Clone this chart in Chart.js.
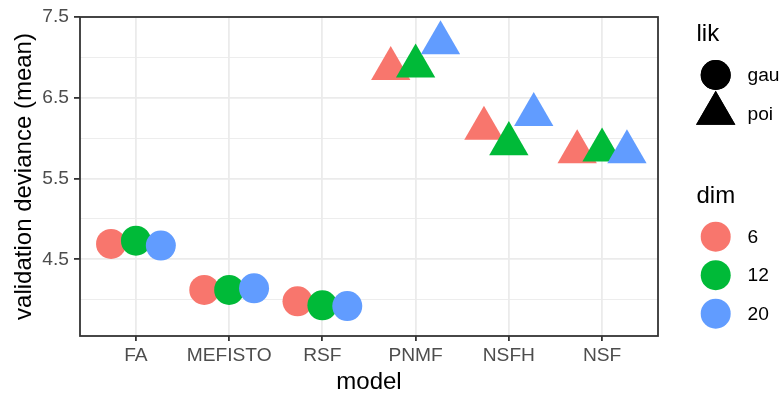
<!DOCTYPE html>
<html>
<head>
<meta charset="utf-8">
<script src="https://cdn.jsdelivr.net/npm/chart.js@4/dist/chart.umd.min.js"></script>
<style>
  body { margin: 0; background: #fff; }
  canvas { display: block; }
</style>
</head>
<body>
<canvas id="chart__dev" width="784" height="394"></canvas>
<script>
// data
const models = ['FA', 'MEFISTO', 'RSF', 'PNMF', 'NSFH', 'NSF'];
const modelLik = ['gau', 'gau', 'gau', 'poi', 'poi', 'poi'];
const dims = ['6', '12', '20'];
const dev6 = [4.69, 4.12, 3.98, 6.86, 6.12, 5.83];
const dev12 = [4.73, 4.12, 3.93, 6.89, 5.93, 5.85];
const dev20 = [4.67, 4.14, 3.92, 7.18, 6.29, 5.83];
const yMajor = [4.5, 5.5, 6.5, 7.5];
const yMinor = [4.0, 5.0, 6.0, 7.0];
const likLabels = ['gau', 'poi'];

const dimColors = ['#F8766D', '#00BA38', '#619CFF'];
const FONT = '"Liberation Sans", Arial, Helvetica, sans-serif';
const TICK_SIZE = 19.2;
const TITLE_SIZE = 24;
const dodge = [-0.267, 0, 0.267];
const CIRCLE_R = 15;
const TRI_R = 22.7;

const series = [dev6, dev12, dev20];
const datasets = series.map((vals, d) => ({
  label: dims[d],
  data: vals.map((v, i) => ({ x: i + dodge[d], y: v })),
  backgroundColor: dimColors[d],
  borderWidth: 0,
  pointStyle: ctx => modelLik[ctx.dataIndex] === 'gau' ? 'circle' : 'triangle',
  pointRadius: ctx => modelLik[ctx.dataIndex] === 'gau' ? CIRCLE_R : TRI_R,
  order: 2 - d,
}));

// panel border + the two legends (lik shape, dim colour)
const ggExtras = {
  id: 'ggExtras',
  afterDatasetsDraw(chart) {
    const { ctx, chartArea: a } = chart;
    ctx.save();
    ctx.strokeStyle = '#333333';
    ctx.lineWidth = 1.8;
    ctx.strokeRect(a.left, a.top, a.right - a.left, a.bottom - a.top);
    ctx.restore();
  },
  afterDraw(chart) {
    const ctx = chart.ctx;
    const kx = 715.7, tx = 747.5, titleX = 696.5;
    ctx.save();
    ctx.fillStyle = '#000';
    ctx.textAlign = 'left';
    ctx.textBaseline = 'alphabetic';
    ctx.font = TITLE_SIZE + 'px ' + FONT;
    ctx.fillText('lik', titleX, 41);
    ctx.fillText('dim', titleX, 203);

    ctx.font = TICK_SIZE + 'px ' + FONT;
    ctx.textBaseline = 'middle';
    const likY = [75, 113.5];
    likLabels.forEach((lab, i) => {
      const style = lab === 'gau' ? 'circle' : 'triangle';
      const r = lab === 'gau' ? CIRCLE_R : TRI_R;
      ctx.fillStyle = '#000';
      ctx.beginPath();
      Chart.helpers.drawPoint(ctx, { pointStyle: style, radius: r, borderWidth: 0 }, kx, likY[i]);
      ctx.fill();
      ctx.fillText(lab, tx, likY[i] + 1);
    });

    const dimY = [236.7, 275.2, 313.7];
    dims.forEach((lab, i) => {
      ctx.fillStyle = dimColors[i];
      ctx.beginPath();
      ctx.arc(kx, dimY[i], CIRCLE_R, 0, Math.PI * 2);
      ctx.fill();
      ctx.fillStyle = '#000';
      ctx.fillText(lab, tx, dimY[i] + 1);
    });
    ctx.restore();
  }
};

const config = {
  type: 'scatter',
  data: { datasets },
  options: {
    responsive: false,
    animation: false,
    events: [],
    layout: { autoPadding: false, padding: { left: 0, right: 126, top: 17, bottom: 0 } },
    plugins: { legend: { display: false }, tooltip: { enabled: false } },
    scales: {
      x: {
        type: 'linear',
        min: -0.6,
        max: 5.6,
        afterBuildTicks: s => { s.ticks = models.map((m, i) => ({ value: i })); },
        afterFit: s => { s.height = 58; },
        border: { display: false },
        grid: {
          color: '#EBEBEB',
          lineWidth: 1.8,
          tickColor: '#333333',
          tickWidth: 1.8,
          tickLength: 5,
        },
        ticks: {
          color: '#4D4D4D',
          font: { family: FONT, size: TICK_SIZE, lineHeight: 1 },
          padding: 5,
          maxRotation: 0,
          autoSkip: false,
          callback: v => models[v],
        },
        title: {
          display: true,
          text: 'model',
          color: '#000',
          font: { family: FONT, size: TITLE_SIZE, lineHeight: 1 },
          padding: { top: 0, bottom: 0 },
        },
      },
      y: {
        min: 3.55,
        max: 7.5,
        afterBuildTicks: s => {
          s.ticks = yMinor.concat(yMajor).sort((p, q) => p - q).map(v => ({ value: v }));
        },
        afterFit: s => { s.width = 80; },
        border: { display: false },
        grid: {
          color: '#EBEBEB',
          lineWidth: c => yMajor.includes(c.tick.value) ? 1.8 : 0.9,
          tickColor: c => yMajor.includes(c.tick.value) ? '#333333' : 'rgba(0,0,0,0)',
          tickWidth: 1.8,
          tickLength: 6,
        },
        ticks: {
          color: '#4D4D4D',
          font: { family: FONT, size: TICK_SIZE, lineHeight: 1 },
          padding: 5,
          callback: v => yMajor.includes(v) ? v.toFixed(1) : '',
        },
        title: {
          display: true,
          text: 'validation deviance (mean)',
          color: '#000',
          font: { family: FONT, size: TITLE_SIZE, lineHeight: 1.2 },
          padding: { top: 10, bottom: 0 },
        },
      },
    },
  },
  plugins: [ggExtras],
};

const canvas = document.getElementById('chart__dev');
const chart = new Chart(canvas, config);
</script>
</body>
</html>
